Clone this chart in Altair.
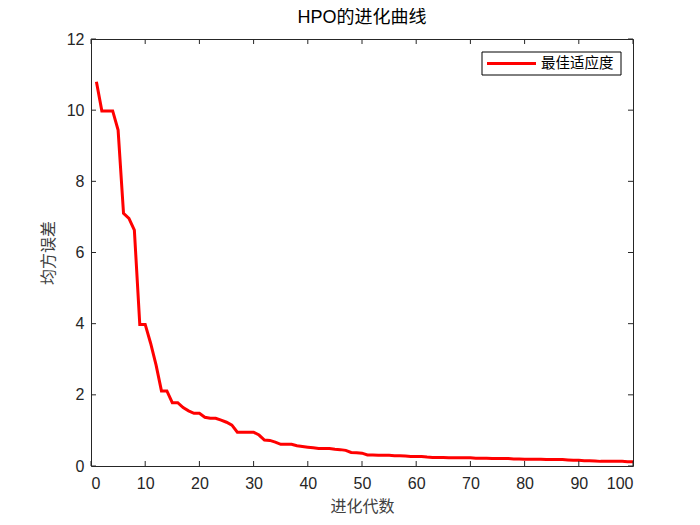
import altair as alt
import pandas as pd

# 进化代数与最佳适应度 (均方误差)
GEN = list(range(1, 101))
FITNESS = [
    10.80, 9.98, 9.98, 9.98, 9.44, 7.10, 6.96, 6.63, 3.98, 3.98,
    3.45, 2.84, 2.11, 2.11, 1.78, 1.78, 1.64, 1.55, 1.48, 1.48,
    1.37, 1.34, 1.34, 1.29, 1.23, 1.15, 0.95, 0.95, 0.95, 0.95,
    0.87, 0.73, 0.72, 0.67, 0.61, 0.61, 0.61, 0.57, 0.55, 0.53,
    0.51, 0.49, 0.49, 0.49, 0.47, 0.46, 0.44, 0.38, 0.37, 0.36,
    0.31, 0.31, 0.30, 0.30, 0.30, 0.29, 0.29, 0.28, 0.27, 0.27,
    0.27, 0.25, 0.24, 0.24, 0.24, 0.23, 0.23, 0.23, 0.23, 0.23,
    0.22, 0.22, 0.22, 0.21, 0.21, 0.21, 0.21, 0.20, 0.20, 0.19,
    0.19, 0.19, 0.19, 0.18, 0.18, 0.18, 0.18, 0.17, 0.16, 0.16,
    0.15, 0.15, 0.14, 0.13, 0.13, 0.13, 0.13, 0.13, 0.12, 0.12,
]
SERIES = ["最佳适应度"]
X_TICKS = [0, 10, 20, 30, 40, 50, 60, 70, 80, 90, 100]
Y_TICKS = [0, 2, 4, 6, 8, 10, 12]

W, H = 542, 427
TICK = 5
FONT = "Liberation Sans, Noto Sans CJK SC"
CJK = "Noto Sans CJK SC"
RED = "#ff0000"
INK = "#262626"

df = pd.DataFrame({"gen": GEN, "fit": FITNESS})
xt = pd.DataFrame({"v": X_TICKS})
yt = pd.DataFrame({"v": Y_TICKS})
lg = pd.DataFrame({"s": SERIES})

xs = alt.Scale(domain=[0, 100], nice=False)
ys = alt.Scale(domain=[0, 12], nice=False)

line = alt.Chart(df).mark_line(strokeWidth=3, color=RED).encode(
    x=alt.X("gen:Q", scale=xs,
            axis=alt.Axis(values=X_TICKS, title="进化代数", ticks=False, domain=False,
                          grid=False, labelPadding=9, titlePadding=7,
                          titleFont=CJK, titleFontSize=16)),
    y=alt.Y("fit:Q", scale=ys,
            axis=alt.Axis(values=Y_TICKS, title="均方误差", ticks=False, domain=False,
                          grid=False, labelPadding=7, titlePadding=10,
                          titleFont=CJK, titleFontSize=16)),
)

# MATLAB 风格的内向刻度
tb = alt.Chart(xt).mark_rule(color=INK).encode(
    x=alt.X("v:Q", scale=xs), y=alt.value(H), y2=alt.value(H - TICK))
tt = alt.Chart(xt).mark_rule(color=INK).encode(
    x=alt.X("v:Q", scale=xs), y=alt.value(0), y2=alt.value(TICK))
tl = alt.Chart(yt).mark_rule(color=INK).encode(
    y=alt.Y("v:Q", scale=ys), x=alt.value(0), x2=alt.value(TICK))
tr = alt.Chart(yt).mark_rule(color=INK).encode(
    y=alt.Y("v:Q", scale=ys), x=alt.value(W), x2=alt.value(W - TICK))

# 图例 (右上角, 带黑框)
lg_box = alt.Chart(lg).mark_rect(fill="white", stroke="black", strokeWidth=1).encode(
    x=alt.value(W - 151), x2=alt.value(W - 12), y=alt.value(13), y2=alt.value(36))
lg_line = alt.Chart(lg).mark_rule(color=RED, strokeWidth=3).encode(
    x=alt.value(W - 146), x2=alt.value(W - 97), y=alt.value(24.5))
lg_text = alt.Chart(lg).mark_text(align="left", baseline="middle", font=CJK,
                                  fontSize=14.5, color="#000000").encode(
    x=alt.value(W - 92), y=alt.value(24.5), text="s:N")

chart = alt.layer(line, tb, tt, tl, tr, lg_box, lg_line, lg_text).properties(
    width=W, height=H,
    autosize=alt.AutoSizeParams(type="none"),
    padding={"left": 83, "top": 31, "right": 50, "bottom": 51},
    title=alt.Title("HPO的进化曲线", font=FONT, fontSize=18, fontWeight="normal",
                    color="#000000", offset=4),
).configure_view(stroke=INK, strokeWidth=1).configure_axis(
    labelFont=FONT, labelFontSize=16, labelColor=INK, titleColor="#404040",
    titleFontWeight="normal",
)

chart.save("out.html", embed_options={"renderer": "svg", "actions": False})
